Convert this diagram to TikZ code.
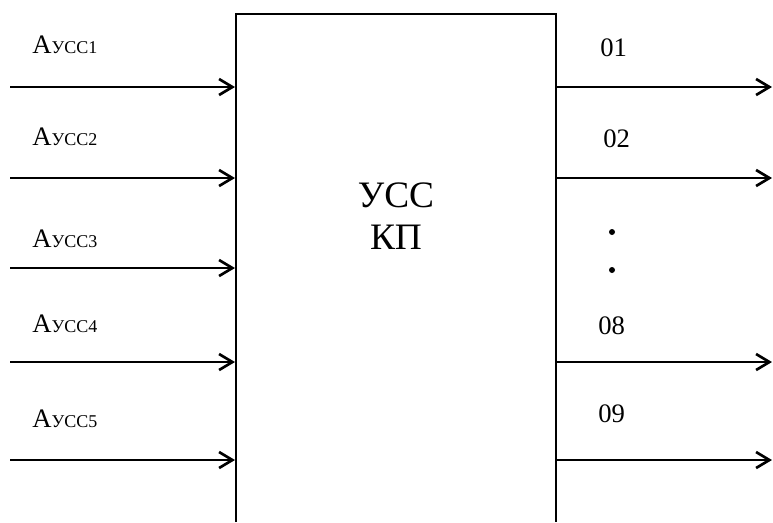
\documentclass[tikz,border=0pt]{standalone}
\usepackage{fontspec}
\setmainfont{Liberation Serif}
\usetikzlibrary{arrows.meta}

\begin{document}
\begin{tikzpicture}[
  x=0.75pt, y=-0.75pt,
  font=\fontsize{20}{24}\selectfont,
  sig/.style={line width=2pt, -{Straight Barb[length=10pt, width=12pt, line width=2pt]}},
  edge/.style={line width=1.5pt},
  inlab/.style={anchor=base west, inner sep=0pt},
  outlab/.style={anchor=base west, inner sep=0pt},
  dotm/.style={circle, fill=black, inner sep=0pt, minimum size=4.5pt},
]
\newcommand{\ussidx}[1]{{\fontsize{13.5}{16}\selectfont УСС#1}}
\useasboundingbox (0,0) rectangle (773,522);

% block (open at the bottom)
\coordinate (bl) at (236,522);
\coordinate (tl) at (236,14);
\coordinate (tr) at (556,14);
\coordinate (br) at (556,522);
\draw[edge] (bl) -- (tl) -- (tr) -- (br);
\node[align=center, font=\fontsize{28}{32}\selectfont] (blk) at (396,216) {УСС\\КП};

% inputs
\coordinate (s1) at (10,87);  \coordinate (e1) at (235,87);
\coordinate (s2) at (10,178); \coordinate (e2) at (235,178);
\coordinate (s3) at (10,268); \coordinate (e3) at (235,268);
\coordinate (s4) at (10,362); \coordinate (e4) at (235,362);
\coordinate (s5) at (10,460); \coordinate (e5) at (235,460);
\draw[sig] (s1) -- (e1);
\draw[sig] (s2) -- (e2);
\draw[sig] (s3) -- (e3);
\draw[sig] (s4) -- (e4);
\draw[sig] (s5) -- (e5);
\node[inlab] (a1) at (32,53)  {A\ussidx{1}};
\node[inlab] (a2) at (32,145) {A\ussidx{2}};
\node[inlab] (a3) at (32,247) {A\ussidx{3}};
\node[inlab] (a4) at (32,332) {A\ussidx{4}};
\node[inlab] (a5) at (32,427) {A\ussidx{5}};

% outputs
\coordinate (o1) at (556,87);  \coordinate (t1) at (772,87);
\coordinate (o2) at (556,178); \coordinate (t2) at (772,178);
\coordinate (o8) at (556,362); \coordinate (t8) at (772,362);
\coordinate (o9) at (556,460); \coordinate (t9) at (772,460);
\draw[sig] (o1) -- (t1);
\draw[sig] (o2) -- (t2);
\draw[sig] (o8) -- (t8);
\draw[sig] (o9) -- (t9);
\node[outlab] (n1) at (600,56)  {01};
\node[outlab] (n2) at (603,147) {02};
\node[outlab] (n8) at (598,334) {08};
\node[outlab] (n9) at (598,422) {09};
\node[dotm] (d1) at (612,232) {};
\node[dotm] (d2) at (612,270) {};
\end{tikzpicture}
\end{document}
